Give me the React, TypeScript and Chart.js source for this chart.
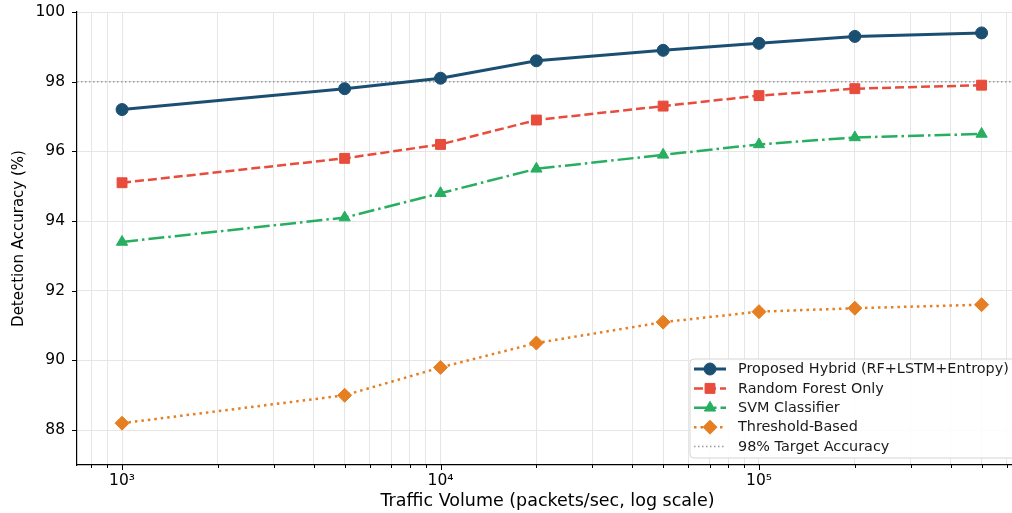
import React, { useEffect, useRef } from 'react';
import { Chart, registerables } from 'chart.js';
import { drawPoint } from 'chart.js/helpers';

Chart.register(...registerables);

const trafficVolume = [1000, 5000, 10000, 20000, 50000, 100000, 200000, 500000];
const hybridAcc = [97.2, 97.8, 98.1, 98.6, 98.9, 99.1, 99.3, 99.4];
const rfAcc = [95.1, 95.8, 96.2, 96.9, 97.3, 97.6, 97.8, 97.9];
const svmAcc = [93.4, 94.1, 94.8, 95.5, 95.9, 96.2, 96.4, 96.5];
const thresholdAcc = [88.2, 89.0, 89.8, 90.5, 91.1, 91.4, 91.5, 91.6];
const targetAccuracy = 98;

const yTickValues = [88, 90, 92, 94, 96, 98, 100];
const xTickValues = [
  800, 900, 1000, 2000, 3000, 4000, 5000, 6000, 7000, 8000, 9000,
  10000, 20000, 30000, 40000, 50000, 60000, 70000, 80000, 90000,
  100000, 200000, 300000, 400000, 500000, 600000,
];
const xMajorTicks = [1000, 10000, 100000];
const xMajorLabels = ['10³', '10⁴', '10⁵'];

const X_MIN = 722;
const X_MAX = 650600;
const Y_MIN = 87;
const Y_MAX = 100;

const FONT = '"DejaVu Sans", sans-serif';

type Series = {
  label: string;
  values: number[];
  color: string;
  dash: number[];
  width: number;
  pointStyle: string;
  radius: number;
};

const seriesList: Series[] = [
  { label: 'Proposed Hybrid (RF+LSTM+Entropy)', values: hybridAcc, color: '#1b4f72', dash: [], width: 3, pointStyle: 'circle', radius: 6 },
  { label: 'Random Forest Only', values: rfAcc, color: '#e74c3c', dash: [9, 4], width: 2.5, pointStyle: 'rect', radius: 7 },
  { label: 'SVM Classifier', values: svmAcc, color: '#27ae60', dash: [16, 4, 2.5, 4], width: 2.5, pointStyle: 'triangle', radius: 6.5 },
  { label: 'Threshold-Based', values: thresholdAcc, color: '#e67e22', dash: [2.5, 4], width: 2.5, pointStyle: 'rectRot', radius: 7 },
];
const targetLabel = '98% Target Accuracy';
const targetColor = '#999999';

const targetLinePlugin = {
  id: 'targetLine',
  beforeDatasetsDraw(chart: any) {
    const { ctx, chartArea, scales } = chart;
    const y = scales.y.getPixelForValue(targetAccuracy);
    ctx.save();
    ctx.strokeStyle = targetColor;
    ctx.lineWidth = 1.5;
    ctx.setLineDash([1.5, 2.5]);
    ctx.beginPath();
    ctx.moveTo(chartArea.left, y);
    ctx.lineTo(chartArea.right, y);
    ctx.stroke();
    ctx.restore();
  },
};

const tickMarksPlugin = {
  id: 'tickMarks',
  afterDraw(chart: any) {
    const { ctx, chartArea, scales } = chart;
    ctx.save();
    ctx.strokeStyle = '#000';
    ctx.lineWidth = 1;
    scales.x.ticks.forEach((t: any) => {
      const px = Math.round(scales.x.getPixelForValue(t.value)) + 0.5;
      const major = xMajorTicks.includes(t.value);
      ctx.beginPath();
      ctx.moveTo(px, chartArea.bottom);
      ctx.lineTo(px, chartArea.bottom + (major ? 5 : 3));
      ctx.stroke();
    });
    scales.y.ticks.forEach((t: any) => {
      const py = Math.round(scales.y.getPixelForValue(t.value)) + 0.5;
      ctx.beginPath();
      ctx.moveTo(chartArea.left, py);
      ctx.lineTo(chartArea.left - 5, py);
      ctx.stroke();
    });
    ctx.restore();
  },
};

const legendPlugin = {
  id: 'customLegend',
  afterDraw(chart: any) {
    const { ctx, chartArea } = chart;
    const boxW = 327;
    const boxH = 99;
    const right = chartArea.right - 1;
    const bottom = chartArea.bottom - 7;
    const left = right - boxW;
    const top = bottom - boxH;
    ctx.save();
    ctx.beginPath();
    if (ctx.roundRect) ctx.roundRect(left, top, boxW, boxH, 4);
    else ctx.rect(left, top, boxW, boxH);
    ctx.fillStyle = 'rgba(255,255,255,0.85)';
    ctx.fill();
    ctx.strokeStyle = '#d5d5d5';
    ctx.lineWidth = 1;
    ctx.stroke();

    const rowH = 19.4;
    const entries = [
      ...seriesList.map((s) => ({ ...s })),
      { label: targetLabel, values: [], color: targetColor, dash: [1.5, 2.5], width: 1.5, pointStyle: '', radius: 0 },
    ];
    ctx.font = `14.4px ${FONT}`;
    ctx.textBaseline = 'middle';
    entries.forEach((e, i) => {
      const y = top + 10 + i * rowH;
      const x0 = left + 4;
      const x1 = left + 36;
      ctx.save();
      ctx.strokeStyle = e.color;
      ctx.lineWidth = e.width;
      ctx.setLineDash(e.dash);
      ctx.beginPath();
      ctx.moveTo(x0, y);
      ctx.lineTo(x1, y);
      ctx.stroke();
      ctx.restore();
      if (e.pointStyle) {
        ctx.save();
        ctx.fillStyle = e.color;
        ctx.strokeStyle = e.color;
        ctx.lineWidth = 1;
        ctx.setLineDash([]);
        drawPoint(ctx, { pointStyle: e.pointStyle as any, rotation: 0, radius: e.radius, borderWidth: 1 }, (x0 + x1) / 2, y);
        ctx.restore();
      }
      ctx.fillStyle = '#1a1a1a';
      ctx.fillText(e.label, left + 48, y + 0.5);
    });
    ctx.restore();
  },
};

export default function App() {
  const canvasRef = useRef<HTMLCanvasElement | null>(null);

  useEffect(() => {
    document.documentElement.style.overflow = 'hidden';
    document.body.style.overflow = 'hidden';
    const canvas = canvasRef.current;
    if (!canvas) return;
    const chart = new Chart(canvas, {
      type: 'line',
      data: {
        datasets: seriesList.map((s) => ({
          label: s.label,
          data: trafficVolume.map((x, i) => ({ x, y: s.values[i] })),
          borderColor: s.color,
          backgroundColor: s.color,
          borderWidth: s.width,
          borderDash: s.dash,
          pointStyle: s.pointStyle as any,
          pointRadius: s.radius,
          pointBackgroundColor: s.color,
          pointBorderColor: s.color,
          pointBorderWidth: 1,
          tension: 0,
          fill: false,
        })),
      },
      options: {
        animation: false,
        responsive: false,
        devicePixelRatio: 1,
        layout: { padding: { left: 0, right: 2, top: 12, bottom: 0 } },
        plugins: {
          legend: { display: false },
          tooltip: { enabled: false },
        },
        scales: {
          x: {
            type: 'logarithmic',
            min: X_MIN,
            max: X_MAX,
            afterBuildTicks: (scale: any) => {
              scale.ticks = xTickValues.map((v) => ({ value: v }));
            },
            afterFit: (scale: any) => {
              scale.height = 48;
              scale.paddingLeft = 0;
              scale.paddingRight = 0;
            },
            grid: { color: '#e6e6e6', lineWidth: 1, drawTicks: false },
            border: { display: true, color: '#000', width: 1.2 },
            ticks: {
              autoSkip: false,
              maxRotation: 0,
              padding: 7,
              color: '#000',
              font: { family: FONT, size: 15.5 },
              callback: (value: any) => {
                const idx = xMajorTicks.indexOf(Number(value));
                return idx >= 0 ? xMajorLabels[idx] : '';
              },
            },
            title: {
              display: true,
              text: 'Traffic Volume (packets/sec, log scale)',
              color: '#000',
              font: { family: FONT, size: 17.5 },
              padding: { top: 0, bottom: 1 },
            },
          },
          y: {
            type: 'linear',
            min: Y_MIN,
            max: Y_MAX,
            afterBuildTicks: (scale: any) => {
              scale.ticks = yTickValues.map((v) => ({ value: v }));
            },
            afterFit: (scale: any) => {
              scale.width = 77;
              scale.paddingTop = 0;
              scale.paddingBottom = 0;
            },
            grid: { color: '#e6e6e6', lineWidth: 1, drawTicks: false },
            border: { display: true, color: '#000', width: 1.2 },
            ticks: {
              padding: 12,
              color: '#000',
              font: { family: FONT, size: 15.5 },
              callback: (value: any) => String(value),
            },
            title: {
              display: true,
              text: 'Detection Accuracy (%)',
              color: '#000',
              font: { family: FONT, size: 15 },
              padding: { top: 10, bottom: 0 },
            },
          },
        },
      },
      plugins: [targetLinePlugin, tickMarksPlugin, legendPlugin],
    });
    return () => chart.destroy();
  }, []);

  return (
    <div style={{ position: 'fixed', left: 0, top: 0, width: 1026, height: 513, background: '#fff' }}>
      <canvas ref={canvasRef} width={1026} height={513} style={{ display: 'block' }} />
    </div>
  );
}
